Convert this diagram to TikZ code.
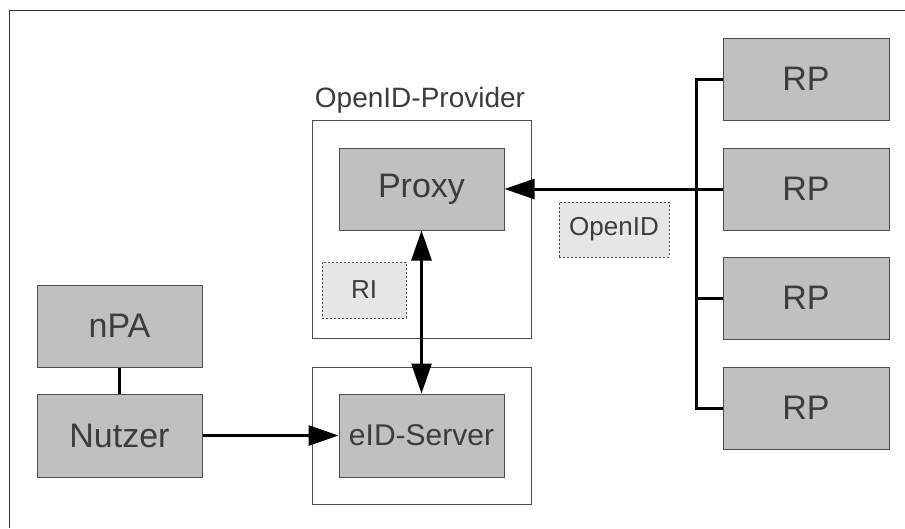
\documentclass[tikz,border=0pt]{standalone}
\usepackage{fontspec}
\setmainfont{Liberation Sans}
\usetikzlibrary{arrows.meta}
\definecolor{boxgray}{HTML}{C0C0C0}
\definecolor{lightbox}{HTML}{E6E6E6}
\definecolor{edgegray}{HTML}{4D4D4D}
\definecolor{txtgray}{HTML}{3C3C3C}
\begin{document}
\begin{tikzpicture}[x=1pt,y=-1pt,
  box/.style={draw=edgegray,line width=1pt,fill=boxgray,rectangle,inner sep=0pt,
    minimum width=165pt,minimum height=82pt,text=txtgray,font=\fontsize{34}{36}\selectfont},
  container/.style={draw=edgegray,line width=1pt,fill=white,rectangle,inner sep=0pt},
  dashbox/.style={draw=edgegray,line width=0.9pt,dash pattern=on 2pt off 2pt,fill=lightbox,
    rectangle,inner sep=0pt,text=txtgray,font=\fontsize{26}{28}\selectfont},
  conn/.style={line width=3pt,black},
  arr/.style={conn,-{Triangle[length=30pt,width=20pt]}},
  arrb/.style={conn,{Triangle[length=30pt,width=20pt]}-{Triangle[length=30pt,width=20pt]}}]
\useasboundingbox (0,0) rectangle (905,528);
% frame
\draw[line width=1.5pt,draw=black!80] (9.5,528) -- (9.5,10.5) -- (905,10.5);
% containers
\node[container,minimum width=219pt,minimum height=218pt] (prov) at (421.5,229) {};
\node[text=txtgray,font=\fontsize{28}{30}\selectfont] (provlabel) at (420,100) {OpenID-Provider};
\node[container,minimum width=219pt,minimum height=137pt] (eidc) at (421.5,435.5) {};
% boxes
\node[box] (proxy) at (421.5,189) {Proxy};
\node[box,minimum height=83pt,font=\fontsize{30}{32}\selectfont] (eid) at (421.5,435.5) {eID-Server};
\node[box] (npa) at (119.5,326) {nPA};
\node[box,minimum height=83pt] (nutzer) at (119.5,435.5) {Nutzer};
\node[box,minimum width=166pt] (rp1) at (806,79) {RP};
\node[box,minimum width=166pt] (rp2) at (806,189) {RP};
\node[box,minimum width=166pt] (rp3) at (806,298) {RP};
\node[box,minimum width=166pt] (rp4) at (806,408) {RP};
% dashed labels
\node[dashbox,minimum width=84pt,minimum height=56pt] (ri) at (364,290) {RI};
\node[dashbox,minimum width=110pt,minimum height=55pt] (oid) at (614,229.5) {OpenID};
% connectors
\coordinate (bus) at (696,0);
\draw[conn] (rp1.west) -- (rp1.west -| bus) |- (rp4.west);
\draw[conn] (rp2.west) -- (rp2.west -| bus);
\draw[conn] (rp3.west) -- (rp3.west -| bus);
\draw[arr] (rp2.west -| bus) -- (proxy.east);
\draw[arrb] (proxy.south) -- (eid.north);
\draw[arr] (nutzer.east) -- (eid.west);
\draw[conn] (npa.south) -- (nutzer.north);
\end{tikzpicture}
\end{document}
